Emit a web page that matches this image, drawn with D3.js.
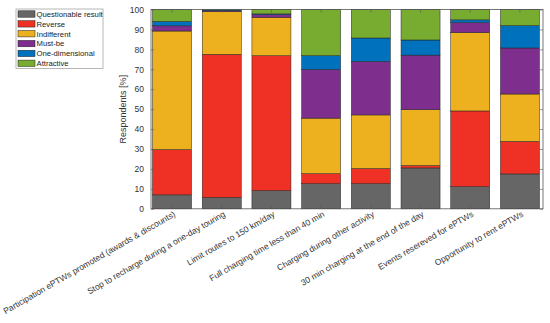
<!DOCTYPE html>
<html><head><meta charset="utf-8">
<script src="https://cdn.jsdelivr.net/npm/d3@7"></script>
<style>body{margin:0;background:#fff;} text{font-family:"Liberation Sans",Arial,sans-serif;}</style>
</head><body><svg id="c" width="550" height="323"></svg>
<script>
const categories = ["Participation ePTWs promoted (awards & discounts)","Stop to recharge during a one-day touring","Limit routes to 150 km/day","Full charging time less than 40 min","Charging during other activity","30 min charging at the end of the day","Events resereved for ePTWs","Opportunity to rent ePTWs"];
const seriesNames = ["Questionable result","Reverse","Indifferent","Must-be","One-dimensional","Attractive"];
const questionable = [7.0, 5.7, 9.1, 12.6, 12.6, 20.5, 11.1, 17.5];
const reverse      = [22.7, 71.8, 67.7, 5.0, 7.6, 1.2, 38.0, 16.3];
const indifferent  = [59.5, 21.5, 19.3, 27.9, 26.9, 28.0, 39.3, 23.8];
const mustBe       = [2.6, 0.5, 1.3, 24.4, 26.8, 27.4, 5.0, 23.1];
const oneDim       = [2.2, 0.5, 0.4, 6.9, 11.8, 7.6, 1.4, 11.2];
const attractive   = [6.0, 0.0, 2.2, 23.2, 14.3, 15.3, 5.2, 8.1];
const yTicks = [0,10,20,30,40,50,60,70,80,90,100];
const colors = ["#666666","#EE3124","#EDB120","#7E2F8E","#0072BD","#77AC30"];

const seriesVals = [questionable, reverse, indifferent, mustBe, oneDim, attractive];
const rows = categories.map((c,i)=>{const r={cat:c}; seriesNames.forEach((s,j)=>r[s]=seriesVals[j][i]); return r;});
const stack = d3.stack().keys(seriesNames)(rows);

const svg = d3.select("#c");
const L=151, R=543, T=9.5, B=208.8;
const x = d3.scaleBand().domain(categories).range([L,R]).paddingInner(0.215).paddingOuter(0.051).align(0.3);
const y = d3.scaleLinear().domain([0,100]).range([B,T]);

svg.append("g").selectAll("g").data(stack).join("g")
  .attr("fill",(d,i)=>colors[i])
  .selectAll("rect").data(d=>d).join("rect")
  .attr("x",d=>x(d.data.cat)).attr("width",x.bandwidth())
  .attr("y",d=>y(d[1])).attr("height",d=>Math.max(0,y(d[0])-y(d[1])))
  .attr("stroke","#222").attr("stroke-width",0.5);

const axCol="#555";
const gl = svg.append("g").attr("transform",`translate(${L},0)`)
  .call(d3.axisLeft(y).tickValues(yTicks).tickSize(-3).tickPadding(7));
gl.selectAll("text").attr("font-size",8.5).attr("fill","#333");
const gr = svg.append("g").attr("transform",`translate(${R},0)`)
  .call(d3.axisRight(y).tickValues(yTicks).tickSize(-3).tickFormat(""));
const gb = svg.append("g").attr("transform",`translate(0,${B})`)
  .call(d3.axisBottom(x).tickSize(-3).tickSizeOuter(0).tickFormat(""));
const gt = svg.append("g").attr("transform",`translate(0,${T})`)
  .call(d3.axisTop(x).tickSize(-3).tickSizeOuter(0).tickFormat(""));
[gl,gr,gb,gt].forEach(g=>{g.select(".domain").remove(); g.selectAll(".tick line").attr("stroke",axCol).attr("stroke-width",0.6);});
svg.append("rect").attr("x",L).attr("y",T).attr("width",R-L).attr("height",B-T)
  .attr("fill","none").attr("stroke",axCol).attr("stroke-width",0.8);

svg.append("g").selectAll("text").data(categories).join("text")
  .attr("transform",d=>`translate(${x(d)+x.bandwidth()/2+4},${B+7}) rotate(-30)`)
  .attr("text-anchor","end").attr("font-size",8.5).attr("fill","#333").text(d=>d);

svg.append("text").attr("transform",`translate(126,${(T+B)/2}) rotate(-90)`)
  .attr("text-anchor","middle").attr("font-size",9).attr("fill","#333").text("Respondents [%]");

const lg = svg.append("g");
lg.append("rect").attr("x",16).attr("y",9).attr("width",87).attr("height",59.5)
  .attr("fill","#fff").attr("stroke","#999").attr("stroke-width",0.7);
seriesNames.forEach((s,i)=>{
  const cy = 14 + i*9.86;
  lg.append("rect").attr("x",18).attr("y",cy-3.2).attr("width",17).attr("height",6.4)
    .attr("fill",colors[i]).attr("stroke","#222").attr("stroke-width",0.5);
  lg.append("text").attr("x",36.5).attr("y",cy+2.8).attr("font-size",7.7).attr("fill","#222").text(s);
});
</script></body></html>
